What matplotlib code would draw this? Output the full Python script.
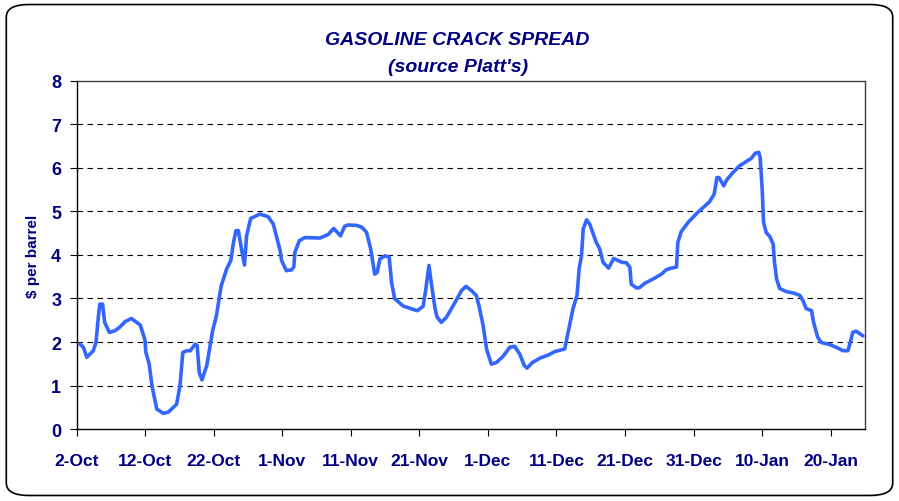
import numpy as np
import matplotlib
matplotlib.use("Agg")
import matplotlib.pyplot as plt
from matplotlib.patches import FancyBboxPatch

# days counted from 2-Oct
days = [0.5, 1.0, 1.5, 2.45, 2.84, 3.2, 3.4, 3.8, 4.1, 4.8, 5.6, 6.3, 7.1, 8.0,
        9.3, 10.0, 10.1, 10.6, 11.0, 11.7, 12.65, 13.4, 14.6, 15.1, 15.5, 16.1,
        16.6, 17.3, 17.6, 17.9, 18.3, 19.0, 19.85, 20.4, 21.1, 21.9, 22.5, 22.9,
        23.25, 23.6, 24.1, 24.5, 24.8, 25.4, 26.75, 27.95, 28.7, 29.7, 29.9, 30.6,
        31.4, 31.7, 31.85, 32.5, 33.3, 35.5, 36.7, 37.5, 38.5, 39.1, 39.6, 40.85,
        41.6, 42.3, 42.9, 43.5, 43.85, 44.25, 45.0, 45.6, 45.95, 46.4, 47.6, 48.9,
        49.7, 50.55, 50.95, 51.4, 51.8, 52.3, 52.6, 53.2, 53.95, 55.2, 56.15, 56.8,
        57.6, 58.3, 58.7, 59.3, 59.8, 60.5, 61.25, 62.2, 63.2, 63.9, 64.65, 65.3,
        65.7, 66.5, 67.6, 68.8, 69.75, 71.2, 71.8, 72.4, 73.0, 73.3, 73.65, 73.9,
        74.4, 74.85, 75.8, 76.3, 76.8, 77.6, 78.35, 79.0, 79.6, 80.2, 80.7, 80.9,
        81.7, 82.1, 82.9, 84.1, 85.3, 86.0, 86.75, 87.5, 87.7, 88.2, 89.2, 90.6,
        91.6, 92.35, 93.0, 93.4, 93.7, 94.4, 94.8, 95.65, 96.7, 97.7, 98.4, 99.0,
        99.5, 99.7, 100.0, 100.2, 100.6, 101.1, 101.6, 101.8, 102.1, 102.55, 103.5,
        104.7, 105.5, 105.95, 106.4, 107.2, 107.5, 108.1, 108.6, 109.85, 111.05,
        111.8, 112.5, 112.85, 113.2, 113.7, 114.7]
spread = [1.95, 1.88, 1.65, 1.80, 1.99, 2.6, 2.87, 2.87, 2.45, 2.22, 2.26, 2.34, 2.47, 2.54,
          2.39, 2.04, 1.77, 1.49, 1.0, 0.46, 0.36, 0.39, 0.57, 1.0, 1.76, 1.80,
          1.80, 1.95, 1.92, 1.30, 1.13, 1.46, 2.26, 2.60, 3.29, 3.68, 3.87, 4.29,
          4.56, 4.56, 4.10, 3.77, 4.44, 4.84, 4.94, 4.88, 4.71, 4.10, 3.88, 3.64,
          3.66, 3.73, 4.06, 4.33, 4.40, 4.39, 4.47, 4.61, 4.44, 4.66, 4.69, 4.68,
          4.64, 4.52, 4.14, 3.56, 3.60, 3.91, 3.98, 3.95, 3.37, 3.0, 2.83, 2.76,
          2.72, 2.82, 3.22, 3.76, 3.29, 2.76, 2.57, 2.45, 2.57, 2.91, 3.18, 3.28,
          3.18, 3.07, 2.83, 2.38, 1.84, 1.49, 1.53, 1.67, 1.88, 1.90, 1.72, 1.46,
          1.40, 1.53, 1.63, 1.70, 1.78, 1.84, 2.30, 2.76, 3.07, 3.68, 3.98, 4.60,
          4.81, 4.71, 4.29, 4.14, 3.83, 3.70, 3.92, 3.87, 3.83, 3.82, 3.72, 3.33,
          3.24, 3.25, 3.35, 3.45, 3.56, 3.66, 3.70, 3.72, 4.29, 4.54, 4.75, 4.98,
          5.12, 5.23, 5.40, 5.78, 5.78, 5.59, 5.72, 5.88, 6.05, 6.15, 6.22, 6.34,
          6.36, 6.25, 5.52, 4.75, 4.51, 4.43, 4.25, 3.83, 3.45, 3.23, 3.16,
          3.12, 3.07, 2.95, 2.77, 2.72, 2.45, 2.11, 1.99, 1.94, 1.86,
          1.80, 1.80, 1.99, 2.22, 2.25, 2.14]

tick_days = [0, 10, 20, 30, 40, 50, 60, 70, 80, 90, 100, 110]
tick_labels = ['2-Oct', '12-Oct', '22-Oct', '1-Nov', '11-Nov', '21-Nov', '1-Dec',
               '11-Dec', '21-Dec', '31-Dec', '10-Jan', '20-Jan']

navy = '#000080'
plt.rcParams['font.family'] = ['Liberation Sans', 'DejaVu Sans']

fig = plt.figure(figsize=(8.99, 5.02), dpi=100)
ax = fig.add_axes([0.0851, 0.1434, 0.8771, 0.6933])

# rounded outer frame of the chart area
frame = FancyBboxPatch((0.007, 0.011), 0.986, 0.978, boxstyle="round,pad=0,rounding_size=0.025",
                       transform=fig.transFigure, fill=False, edgecolor='black', linewidth=1.2)
fig.patches.append(frame)

ax.plot(days, spread, color='#3366FF', linewidth=2.6, solid_joinstyle='round',
        solid_capstyle='round', zorder=3)

ax.set_xlim(0, 115)
ax.set_ylim(0, 8)
ax.set_yticks(range(0, 9))
ax.set_xticks(tick_days)
ax.set_xticklabels(tick_labels)

for yv in range(1, 8):
    ax.axhline(yv, color='black', linestyle=(0, (5, 4)), linewidth=0.8, zorder=1)

for side in ['left', 'bottom']:
    ax.spines[side].set_color('black')
    ax.spines[side].set_linewidth(1.0)
for side in ['top', 'right']:
    ax.spines[side].set_color('#404040')
    ax.spines[side].set_linewidth(1.0)

ax.tick_params(axis='both', direction='out', length=5, width=0.8, color='black')
ax.tick_params(axis='x', labelsize=12.5, labelcolor=navy, pad=12)
ax.tick_params(axis='y', labelsize=13, labelcolor=navy, pad=6)
for lab in ax.get_xticklabels() + ax.get_yticklabels():
    lab.set_fontweight('bold')

ax.set_ylabel('$ per barrel', fontsize=11, fontweight='bold', color=navy, labelpad=8)

fig.text(0.509, 0.92, 'GASOLINE CRACK SPREAD', ha='center', va='center',
         fontsize=14, fontweight='bold', style='italic', color=navy)
fig.text(0.509, 0.866, "(source Platt's)", ha='center', va='center',
         fontsize=14, fontweight='bold', style='italic', color=navy)

fig.savefig('out.png', dpi=100)
